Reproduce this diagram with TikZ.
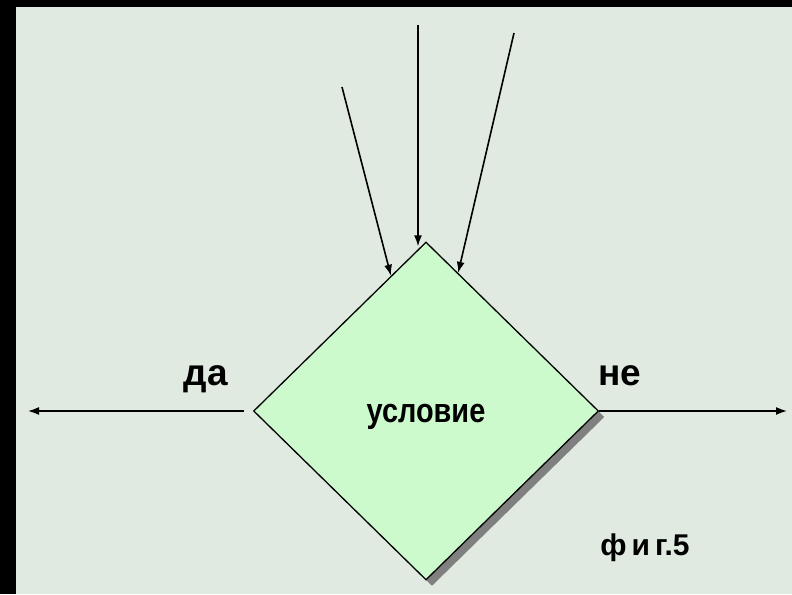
\documentclass[tikz,border=0pt]{standalone}
\usepackage{fontspec}
\setmainfont{Liberation Sans}
\usetikzlibrary{shapes.geometric,arrows.meta,shadows}
\definecolor{bgcol}{RGB}{224,234,224}
\definecolor{condcol}{RGB}{204,250,204}

\begin{document}
\begin{tikzpicture}[x=1pt, y=-1pt,
    arr/.style={-{Latex[length=11pt,width=8pt]}, line width=1.6pt},
    lbl/.style={font=\bfseries\fontsize{37}{37}\selectfont, inner sep=0pt, anchor=base}]
        \fill[black] (0,0) rectangle (792,594);
        \fill[bgcol] (16,7) rectangle (792,594);
        \useasboundingbox (0,0) rectangle (792,594);
        % condition block
        \node[diamond, draw, line width=1.3pt, fill=condcol, minimum width=345pt, minimum height=338pt, inner sep=0pt,
              drop shadow={shadow xshift=6pt, shadow yshift=-6pt, fill=gray, opacity=1},
              font=\bfseries\fontsize{34}{34}\selectfont] (cond) at (426,411) {\raisebox{-6pt}[\height][\depth]{\scalebox{0.85}[1]{условие}}};
        % incoming arrows
        \coordinate (inl) at (342,87);
        \coordinate (inm) at (418,25);
        \coordinate (inr) at (514,33);
        \draw[arr] (inl) -- (cond);
        \draw[arr, shorten >=-5pt] (inm) -- (inm |- cond.north);
        \draw[arr] (inr) -- (cond);
        % outgoing arrows
        \coordinate (yes) at (28,411);
        \coordinate (no) at (787,411);
        \draw[arr, shorten <=9pt] (cond.west) -- (cond.west -| yes);
        \draw[arr] (cond.east) -- (cond.east -| no);
        \node[lbl] (da) at (206,385) {да};
        \node[lbl] (ne) at (620,385) {не};
        \node[lbl, font=\bfseries\fontsize{30}{30}\selectfont] (fig) at (645,555) {ф\,и\,г.5};
\end{tikzpicture}
\end{document}
